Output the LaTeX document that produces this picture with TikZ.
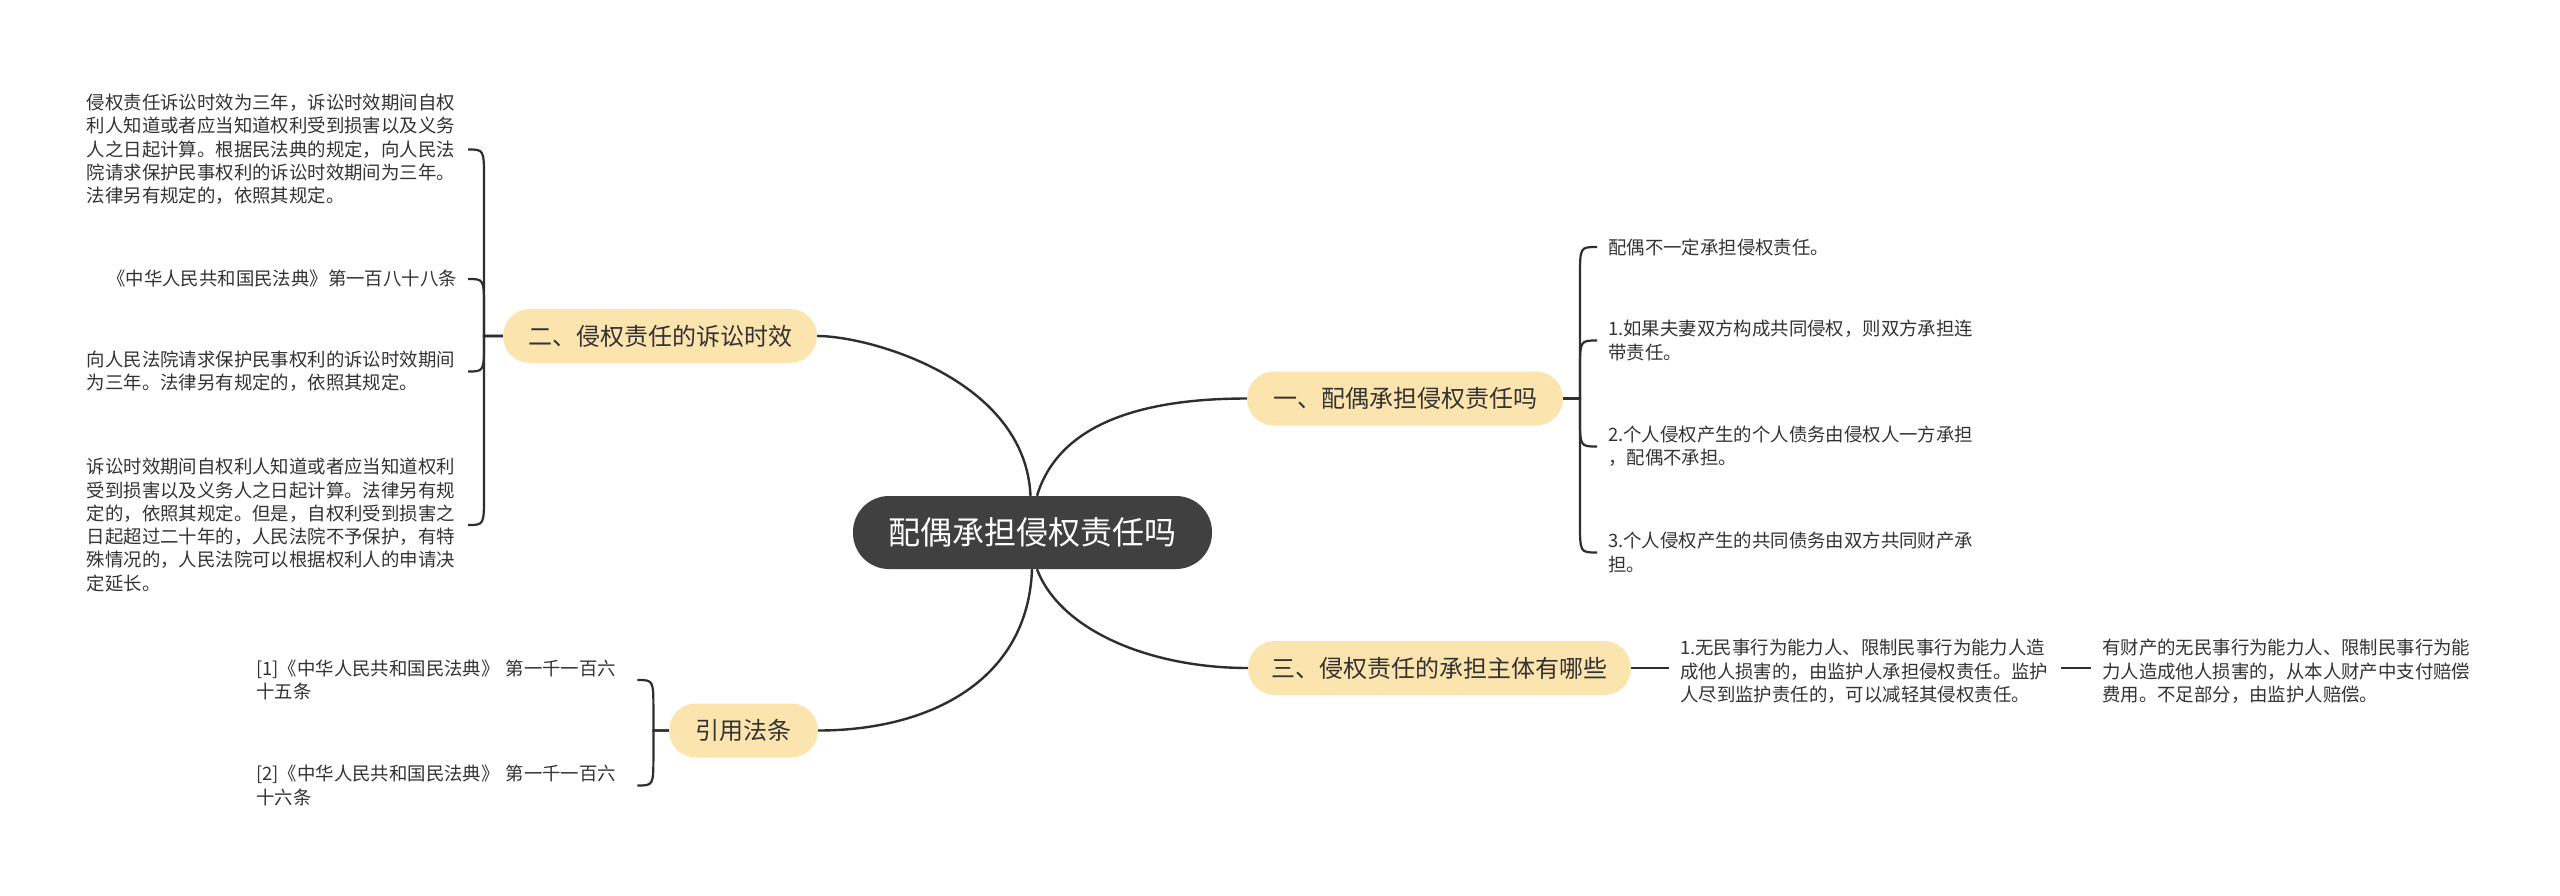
\documentclass[tikz,border=0pt]{standalone}
\usepackage{fontspec}
\setmainfont{Noto Sans CJK SC}
\usetikzlibrary{calc}
\definecolor{pill}{HTML}{FCE4AF}
\definecolor{rootc}{HTML}{404040}
\definecolor{ink}{HTML}{333333}
\definecolor{edgec}{HTML}{2E2E2E}
\tikzset{
  rootnode/.style={fill=rootc, text=white, rounded corners=36pt, minimum width=359pt, minimum height=73pt, inner sep=0pt, font=\fontsize{32}{38}\selectfont},
  topic/.style={fill=pill, text=ink, rounded corners=27pt, minimum height=54pt, inner sep=0pt, font=\fontsize{24}{29}\selectfont},
  leaf/.style={text=ink, text width=370pt, align=left, inner xsep=11pt, inner ysep=0pt, font=\fontsize{18.4}{23.3}\selectfont},
  mainline/.style={draw=edgec, line width=2.4pt},
  bracel/.style={draw=edgec, line width=2.2pt},
}
\begin{document}
\begin{tikzpicture}[x=1pt, y=-1pt]
\fill[white] (0,0) rectangle (2560,895);
\useasboundingbox (0,0) rectangle (2560,895);

% root and topics
\node[rootnode] (C) at (1032.5,532.5) {配偶承担侵权责任吗};
\node[topic, minimum width=314pt] (B2) at (660,336) {二、侵权责任的诉讼时效};
\node[topic, minimum width=316pt] (B1) at (1405,398.5) {一、配偶承担侵权责任吗};
\node[topic, minimum width=383pt] (B3) at (1439.5,668) {三、侵权责任的承担主体有哪些};
\node[topic, minimum width=149pt] (B4) at (743.5,730.5) {引用法条};

% left leaves of B2
\node[leaf, anchor=east] (L1) at (468,149.5) {侵权责任诉讼时效为三年，诉讼时效期间自权\\利人知道或者应当知道权利受到损害以及义务\\人之日起计算。根据民法典的规定，向人民法\\院请求保护民事权利的诉讼时效期间为三年。\\法律另有规定的，依照其规定。};
\node[leaf, anchor=east, align=right] (L2) at (468,279) {《中华人民共和国民法典》第一百八十八条};
\node[leaf, anchor=east] (L3) at (468,371.5) {向人民法院请求保护民事权利的诉讼时效期间\\为三年。法律另有规定的，依照其规定。};
\node[leaf, anchor=east] (L4) at (468,525) {诉讼时效期间自权利人知道或者应当知道权利\\受到损害以及义务人之日起计算。法律另有规\\定的，依照其规定。但是，自权利受到损害之\\日起超过二十年的，人民法院不予保护，有特\\殊情况的，人民法院可以根据权利人的申请决\\定延长。};

% right leaves of B1
\node[leaf, anchor=west] (R1) at (1597,247) {配偶不一定承担侵权责任。};
\node[leaf, anchor=west] (R2) at (1597,340.5) {1.如果夫妻双方构成共同侵权，则双方承担连\\带责任。};
\node[leaf, anchor=west] (R3) at (1597,446.5) {2.个人侵权产生的个人债务由侵权人一方承担\\，配偶不承担。};
\node[leaf, anchor=west] (R4) at (1597,552.5) {3.个人侵权产生的共同债务由双方共同财产承\\担。};

% leaves of B3
\node[leaf, anchor=west] (D1) at (1669,671.5) {1.无民事行为能力人、限制民事行为能力人造\\成他人损害的，由监护人承担侵权责任。监护\\人尽到监护责任的，可以减轻其侵权责任。};
\node[leaf, anchor=west] (D2) at (2091,671.5) {有财产的无民事行为能力人、限制民事行为能\\力人造成他人损害的，从本人财产中支付赔偿\\费用。不足部分，由监护人赔偿。};

% leaves of B4
\node[leaf, anchor=west] (E1) at (245,680) {[1]《中华人民共和国民法典》~第一千一百六\\十五条};
\node[leaf, anchor=west] (E2) at (245,785.5) {[2]《中华人民共和国民法典》~第一千一百六\\十六条};

% main curves
\draw[mainline] ([xshift=-2pt]C.north) .. controls +(-5,-116) and +(53,0) .. (B2.east);
\draw[mainline] ([xshift=4.5pt]C.north) .. controls +(23,-76) and +(-97,0) .. (B1.west);
\draw[mainline] ([xshift=4.5pt]C.south) .. controls +(23,61) and +(-98,0) .. (B3.west);
\draw[mainline] ([xshift=-0.5pt]C.south) .. controls +(-4,111) and +(112,0) .. (B4.east);

% brackets of B2
\draw[bracel] (B2.west) -| ($(L1.east)+(16,30)$) .. controls ($(L1.east)+(16,0)$) .. (L1.east);
\draw[bracel] (B2.west) -| ($(L2.east)+(16,30)$) .. controls ($(L2.east)+(16,0)$) .. (L2.east);
\draw[bracel] (B2.west) -| ($(L3.east)+(16,-30)$) .. controls ($(L3.east)+(16,0)$) .. (L3.east);
\draw[bracel] (B2.west) -| ($(L4.east)+(16,-30)$) .. controls ($(L4.east)+(16,0)$) .. (L4.east);

% brackets of B1
\draw[bracel] (B1.east) -| ($(R1.west)+(-17,30)$) .. controls ($(R1.west)+(-17,0)$) .. (R1.west);
\draw[bracel] (B1.east) -| ($(R2.west)+(-17,30)$) .. controls ($(R2.west)+(-17,0)$) .. (R2.west);
\draw[bracel] (B1.east) -| ($(R3.west)+(-17,-30)$) .. controls ($(R3.west)+(-17,0)$) .. (R3.west);
\draw[bracel] (B1.east) -| ($(R4.west)+(-17,-30)$) .. controls ($(R4.west)+(-17,0)$) .. (R4.west);

% brackets of B4
\draw[bracel] (B4.west) -| ($(E1.east)+(16,30)$) .. controls ($(E1.east)+(16,0)$) .. (E1.east);
\draw[bracel] (B4.west) -| ($(E2.east)+(16,-30)$) .. controls ($(E2.east)+(16,0)$) .. (E2.east);

% chain of B3
\draw[bracel] (B3.east) -- (B3.east -| D1.west);
\draw[bracel] (B3.east -| D1.east) -- (B3.east -| D2.west);
\end{tikzpicture}
\end{document}
